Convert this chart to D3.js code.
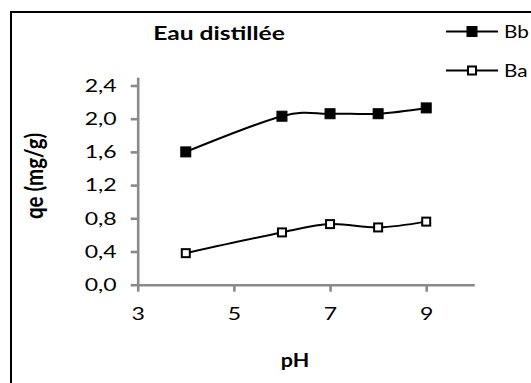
<!DOCTYPE html>
<html>
<head>
<meta charset="utf-8">
<script src="https://cdn.jsdelivr.net/npm/d3@7"></script>
<style>
  html, body { margin: 0; padding: 0; background: #fff; }
  svg { display: block; }
  text { font-family: Lato, "Open Sans", sans-serif; fill: #000; }
</style>
</head>
<body>
<svg id="chart" width="531" height="383"></svg>
<script>
const title = "Eau distillée";
const xLabel = "pH";
const yLabel = "qe (mg/g)";
const pH = [4, 6, 7, 8, 9];
const seriesNames = ["Bb", "Ba"];
const bbValues = [1.60, 2.03, 2.06, 2.06, 2.13];
const baValues = [0.38, 0.63, 0.73, 0.69, 0.76];
const xTicks = [3, 5, 7, 9];
const yTicks = [0.0, 0.4, 0.8, 1.2, 1.6, 2.0, 2.4];

const svg = d3.select("#chart");
const W = 531, H = 383;

// chart frame
svg.append("path")
  .attr("d", `M11,${H + 5} L11,12 L${W + 5},12`)
  .attr("fill", "none").attr("stroke", "#000").attr("stroke-width", 2);

const x = d3.scaleLinear().domain([3, 10]).range([137.7, 474.3]);
const y = d3.scaleLinear().domain([0, 2.5]).range([284.7, 77.2]);
const axisColor = "#8a8a8a";
const fmt = d => d3.format(".1f")(d).replace(".", ",");
const stretch = 1.28;

// y axis
const gy = svg.append("g").attr("transform", `translate(${x(3)},0)`)
  .call(d3.axisLeft(y).tickValues(yTicks).tickFormat(fmt).tickSize(7).tickSizeOuter(0).tickPadding(14));
// x axis
const gx = svg.append("g").attr("transform", `translate(0,${y(0)})`)
  .call(d3.axisBottom(x).tickValues(xTicks).tickFormat(d3.format("d")).tickSize(7).tickSizeOuter(0).tickPadding(16));

[gx, gy].forEach(g => {
  g.select(".domain").attr("stroke", axisColor).attr("stroke-width", 2.6);
  g.selectAll(".tick line").attr("stroke", axisColor).attr("stroke-width", 2.6);
  g.selectAll(".tick text").style("font-family", "Lato, sans-serif").style("font-size", "18px").attr("fill", "#000");
});
gy.selectAll(".tick text").attr("x", 0).attr("transform", `translate(-21,0) scale(${stretch},1)`);
gx.selectAll(".tick text").attr("transform", `scale(${stretch},1)`);

// lines
const line = d3.line().x((d, i) => x(pH[i])).y(d => y(d)).curve(d3.curveCardinal.tension(0));
const series = [
  { name: seriesNames[0], values: bbValues, filled: true },
  { name: seriesNames[1], values: baValues, filled: false }
];

series.forEach(s => {
  svg.append("path").datum(s.values).attr("d", line)
    .attr("fill", "none").attr("stroke", "#000").attr("stroke-width", 2);
  const size = s.filled ? 10 : 8;
  svg.append("g").selectAll("rect").data(s.values).join("rect")
    .attr("x", (d, i) => x(pH[i]) - size / 2)
    .attr("y", d => y(d) - size / 2)
    .attr("width", size).attr("height", size)
    .attr("fill", s.filled ? "#000" : "#fff")
    .attr("stroke", "#000").attr("stroke-width", s.filled ? 1 : 2);
});

// legend
const legY = [31.5, 70.5];
series.forEach((s, i) => {
  const g = svg.append("g").attr("transform", `translate(0,${legY[i]})`);
  g.append("line").attr("x1", 446).attr("x2", 498).attr("y1", 0).attr("y2", 0)
    .attr("stroke", "#000").attr("stroke-width", 2);
  const size = s.filled ? 10 : 8;
  g.append("rect").attr("x", 472 - size / 2).attr("y", -size / 2)
    .attr("width", size).attr("height", size)
    .attr("fill", s.filled ? "#000" : "#fff")
    .attr("stroke", "#000").attr("stroke-width", s.filled ? 1 : 2);
  g.append("text").attr("transform", "translate(504,0) scale(1.15,1)").attr("dy", "0.35em")
    .style("font-size", "18px").text(s.name);
});

// title
svg.append("text").attr("transform", "translate(219,39.5) scale(1.33,1)").attr("text-anchor", "middle")
  .style("font-size", "18.5px").style("font-weight", "bold").text(title);
// x label
svg.append("text").attr("transform", "translate(295,366.5) scale(1.1,1)").attr("text-anchor", "middle")
  .style("font-size", "19.5px").style("font-weight", "bold").text(xLabel);
// y label
svg.append("text").attr("transform", "translate(43,176) scale(1.25,1) rotate(-90)").attr("text-anchor", "middle")
  .style("font-size", "20.5px").style("font-weight", "bold").text(yLabel);
</script>
</body>
</html>
